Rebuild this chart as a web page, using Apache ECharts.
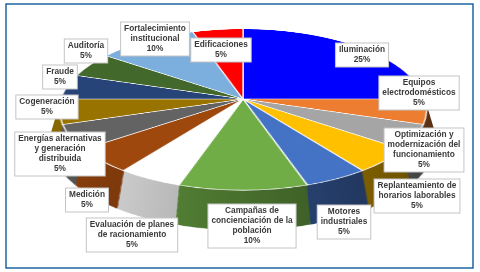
<!DOCTYPE html>
<html>
<head>
<meta charset="utf-8">
<script src="https://cdn.jsdelivr.net/npm/echarts@6/dist/echarts.min.js"></script>
<style>
  html, body { margin: 0; padding: 0; background: #fff; }
  #wrap { position: relative; width: 480px; height: 272px; overflow: hidden; }
  /* the pie is drawn flat, then tilted with a css perspective */
  #pie { position: absolute; left: 0; top: -91px; width: 480px; height: 450px;
         transform-origin: 243px 190px;
         transform: perspective(1257px) rotateX(64.2deg); }
  #labels { position: absolute; left: 0; top: 0; width: 480px; height: 272px; }
</style>
</head>
<body>
<div id="wrap">
  <div id="pie"></div>
  <div id="labels"></div>
</div>
<script>
// datos
const categories = [
  'Iluminación',
  'Equipos\nelectrodomésticos',
  'Optimización y\nmodernización del\nfuncionamiento',
  'Replanteamiento de\nhorarios laborables',
  'Motores\nindustriales',
  'Campañas de\nconcienciación de la\npoblación',
  'Evaluación de planes\nde racionamiento',
  'Medición',
  'Energías alternativas\ny generación\ndistribuida',
  'Cogeneración',
  'Fraude',
  'Auditoría',
  'Fortalecimiento\ninstitucional',
  'Edificaciones'
];
const values = [25, 5, 5, 5, 5, 10, 5, 5, 5, 5, 5, 5, 10, 5];

const colors = ['#0000FF', '#ED7D31', '#A5A5A5', '#FFC000', '#4472C4', '#70AD47', '#FFFFFF',
                '#9E480E', '#636363', '#997300', '#264478', '#43682B', '#7CAFDD', '#FF0000'];

// label box centres (screen px)
const labelPos = [
  [362, 55], [419, 93], [424, 150], [417, 196], [344, 222], [252, 226], [132, 235],
  [87, 200], [60, 154], [47, 107], [60, 77], [86, 51], [155, 39], [221, 50]
];

const R = 182, CX = 243, CY = 190, DEPTH = 66;

function shade(hex, f) {
  const r = Math.round(parseInt(hex.slice(1, 3), 16) * f);
  const g = Math.round(parseInt(hex.slice(3, 5), 16) * f);
  const b = Math.round(parseInt(hex.slice(5, 7), 16) * f);
  return 'rgb(' + r + ',' + g + ',' + b + ')';
}
// side walls lit from the left, darker to the right
function sideFill(hex) {
  return new echarts.graphic.LinearGradient(CX - R, 0, CX + R, 0, [
    {offset: 0, color: shade(hex, 0.9)},
    {offset: 1, color: shade(hex, 0.38)}
  ], true);
}
const sideColors = colors.map(sideFill);

// colour set per data item, pie shares palette by name otherwise
function makeData(cols) {
  return categories.map((c, i) => ({name: c, value: values[i], itemStyle: {color: cols[i]}}));
}

let series = [];
let z = 1;
// side wall: stacked copies shifted down, deepest first
for (let d = DEPTH; d > 0; d -= 2) {
  series.push({
    type: 'pie',
    silent: true,
    z: z++,
    center: [CX, CY + d],
    radius: [0, R],
    startAngle: 90,
    label: {show: false},
    labelLine: {show: false},
    data: makeData(sideColors)
  });
}
// top face
series.push({
  type: 'pie',
  silent: true,
  z: 200,
  center: [CX, CY],
  radius: [0, R],
  startAngle: 90,
  itemStyle: {borderColor: 'rgba(255,255,255,0.85)', borderWidth: 1.5},
  label: {show: false},
  labelLine: {show: false},
  data: makeData(colors)
});

const pieChart = echarts.init(document.getElementById('pie'));
pieChart.setOption({animation: false, series: series});

const labelChart = echarts.init(document.getElementById('labels'));
labelChart.setOption({
  animation: false,
  graphic: [{
    type: 'rect',
    shape: {x: 6, y: 4, width: 467, height: 264},
    style: {fill: 'none', stroke: '#1F64A3', lineWidth: 1.5},
    silent: true
  }],
  series: [{
    type: 'pie',
    silent: true,
    center: [CX, 99],
    radius: [0, 1],
    startAngle: 90,
    avoidLabelOverlap: false,
    itemStyle: {color: 'transparent'},
    labelLine: {show: false},
    label: {
      show: true,
      position: 'outside',
      formatter: p => p.name + '\n' + p.value + '%',
      fontFamily: '"Liberation Sans Narrow", "Liberation Sans", sans-serif',
      fontSize: 8.3,
      fontWeight: 'bold',
      color: '#3a3a3a',
      lineHeight: 10,
      align: 'center',
      backgroundColor: '#fff',
      borderColor: '#C4C4C4',
      borderWidth: 1,
      padding: [2, 3, 1, 3]
    },
    labelLayout: p => ({
      x: labelPos[p.dataIndex][0],
      y: labelPos[p.dataIndex][1],
      align: 'center',
      verticalAlign: 'middle'
    }),
    data: categories.map((c, i) => ({name: c, value: values[i]}))
  }]
});
</script>
</body>
</html>
